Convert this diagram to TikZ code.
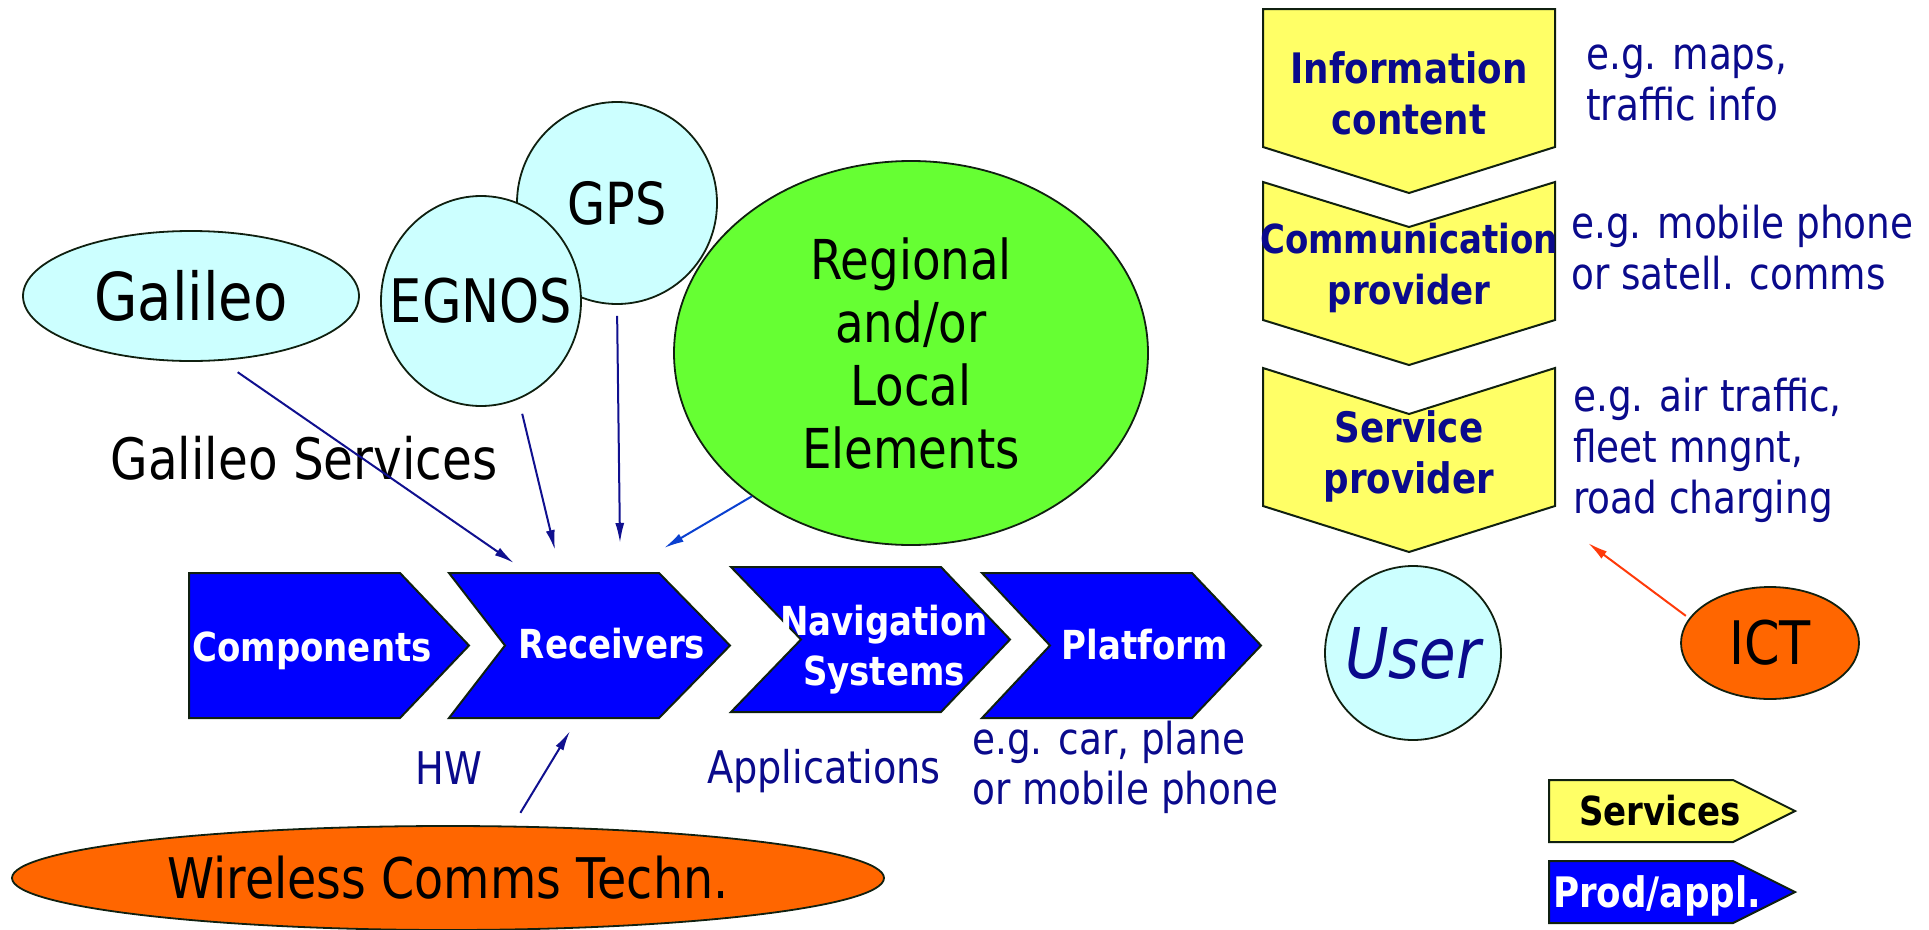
\documentclass[tikz,border=0pt]{standalone}
\usepackage{fontspec}
\setmainfont{DejaVu Sans}[FakeStretch=0.85, BoldFont={DejaVu Sans Bold}, ItalicFont={DejaVu Sans Oblique}]
\usepackage{xcolor}
\usetikzlibrary{arrows.meta, shapes.geometric}

\definecolor{skyfill}{HTML}{CCFFFF}
\definecolor{regionfill}{HTML}{66FF33}
\definecolor{techfill}{HTML}{FF6600}
\definecolor{prodblue}{HTML}{0000FF}
\definecolor{servfill}{HTML}{FFFF66}
\definecolor{navytext}{HTML}{0A0A8C}
\definecolor{feedblue}{HTML}{10108F}
\definecolor{localblue}{HTML}{0A40D0}
\definecolor{ictred}{HTML}{FF3A0A}
\definecolor{edge}{HTML}{102010}

\begin{document}
\begin{tikzpicture}[x=1pt, y=-1pt, >={Latex[length=20pt,width=9pt]},
    blob/.style={ellipse, draw=edge, line width=1.8pt, inner sep=0pt, inner xsep=-25pt, align=center},
    prodshape/.style={fill=prodblue, draw=edge, line width=2pt},
    servshape/.style={fill=servfill, draw=edge, line width=2pt},
    prodtext/.style={text=white, font=\bfseries\fontsize{40}{50}\selectfont, align=center},
    servtext/.style={text=navytext, font=\bfseries\fontsize{42}{51}\selectfont, align=center},
    note/.style={text=navytext, inner sep=0pt, font=\fontsize{44}{51}\selectfont, align=left},
    feed/.style={->, line width=2pt, draw=feedblue}]
    \useasboundingbox (0,0) rectangle (1929,929);

    % Sistemas de satelite
    \node[blob, fill=skyfill, minimum width=336pt, minimum height=130pt, font=\fontsize{66}{70}\selectfont] (galileo) at (191,296) {Galileo};
    \node[blob, fill=skyfill, minimum width=200pt, minimum height=202pt, font=\fontsize{58}{62}\selectfont] (gps) at (617,203) {GPS};
    \node[blob, fill=skyfill, minimum width=200pt, minimum height=210pt, font=\fontsize{60}{64}\selectfont] (egnos) at (481,301) {EGNOS};
    \node[blob, fill=regionfill, minimum width=474pt, minimum height=384pt, font=\fontsize{55}{63}\selectfont] (regional) at (911,353) {Regional\\and/or\\Local\\Elements};
    \node[font=\fontsize{57}{60}\selectfont] (galserv) at (304,458) {Galileo Services};

    % Cadeia de produtos
    \draw[prodshape] (189,573) -- (400,573) -- (469,645.5) -- (400,718) -- (189,718) -- cycle;
    \draw[prodshape] (449,573) -- (659,573) -- (730,645.5) -- (659,718) -- (449,718) -- (505,645.5) -- cycle;
    \draw[prodshape] (731,567) -- (941,567) -- (1010,639.5) -- (941,712) -- (731,712) -- (801,639.5) -- cycle;
    \draw[prodshape] (982,573) -- (1192,573) -- (1261,645.5) -- (1192,718) -- (982,718) -- (1050,645.5) -- cycle;
    \node[prodtext] (components) at (312,651) {Components};
    \node[prodtext] (receivers) at (612,644) {Receivers};
    \node[prodtext] (navigation) at (884,650) {Navigation\\Systems};
    \node[prodtext] (platform) at (1145,645) {Platform};

    % Legendas da cadeia
    \node[note, font=\fontsize{45}{50}\selectfont] (hw) at (449,768) {HW};
    \node[note, font=\fontsize{45}{50}\selectfont] (apps) at (824,771) {Applications};
    \node[note, anchor=west, font=\fontsize{44}{50}\selectfont] (platnote) at (972,767) {e.g. car, plane\\or mobile phone};

    % Tecnologias
    \node[blob, fill=techfill, minimum width=872pt, minimum height=104pt, font=\fontsize{56}{60}\selectfont] (wireless) at (448,878) {Wireless Comms Techn.};
    \node[blob, fill=skyfill, minimum width=176pt, minimum height=174pt, text=navytext, font=\itshape\fontsize{70}{74}\selectfont] (user) at (1413,653) {User};
    \node[blob, fill=techfill, minimum width=178pt, minimum height=112pt, font=\fontsize{60}{64}\selectfont] (ict) at (1770,643) {ICT};

    % Cadeia de servicos
    \draw[servshape] (1263,9) -- (1555,9) -- (1555,147) -- (1409,193) -- (1263,147) -- cycle;
    \draw[servshape] (1263,182) -- (1409,227) -- (1555,182) -- (1555,320) -- (1409,365) -- (1263,320) -- cycle;
    \draw[servshape] (1263,368) -- (1409,414) -- (1555,368) -- (1555,506) -- (1409,552) -- (1263,506) -- cycle;
    \node[servtext] (info) at (1409,93) {Information\\content};
    \node[servtext, font=\bfseries\fontsize{40}{51}\selectfont] (comm) at (1409,268) {Communication\\provider};
    \node[servtext] (serv) at (1409,456) {Service\\provider};
    \node[note, anchor=west] (infonote) at (1586,83) {e.g. maps,\\traffic info};
    \node[note, anchor=west] (commnote) at (1571,248) {e.g. mobile phone\\or satell. comms};
    \node[note, anchor=west] (servnote) at (1573,450) {e.g. air traffic,\\fleet mngnt,\\road charging};

    % Legenda
    \draw[servshape] (1549,780) -- (1733,780) -- (1795,811) -- (1733,842) -- (1549,842) -- cycle;
    \draw[prodshape] (1549,861) -- (1733,861) -- (1795,892) -- (1733,923) -- (1549,923) -- cycle;
    \node[font=\bfseries\fontsize{40}{44}\selectfont] (servlegend) at (1660,811) {Services};
    \node[prodtext, font=\bfseries\fontsize{42}{50}\selectfont] (prodlegend) at (1657,896) {Prod/appl.};

    % Setas
    \coordinate (galEnd) at (514,563);
    \coordinate (egnosEnd) at (555,550);
    \coordinate (gpsEnd) at (620,543);
    \coordinate (localEnd) at (664,548);
    \coordinate (hwEnd) at (570,731);
    \coordinate (ictEnd) at (1588,543);
    \draw[feed, shorten <=20pt] (galileo.-65) -- (galEnd);
    \draw[feed, shorten <=15pt] (egnos.-69) -- (egnosEnd);
    \draw[feed, shorten <=11pt] (gps.south) -- (gpsEnd);
    \draw[feed, draw=localblue] (regional.222) -- (localEnd);
    \draw[feed, shorten <=15pt] (wireless.39) -- (hwEnd);
    \draw[feed, draw=ictred, shorten <=4pt] (ict.163) -- (ictEnd);
\end{tikzpicture}
\end{document}
